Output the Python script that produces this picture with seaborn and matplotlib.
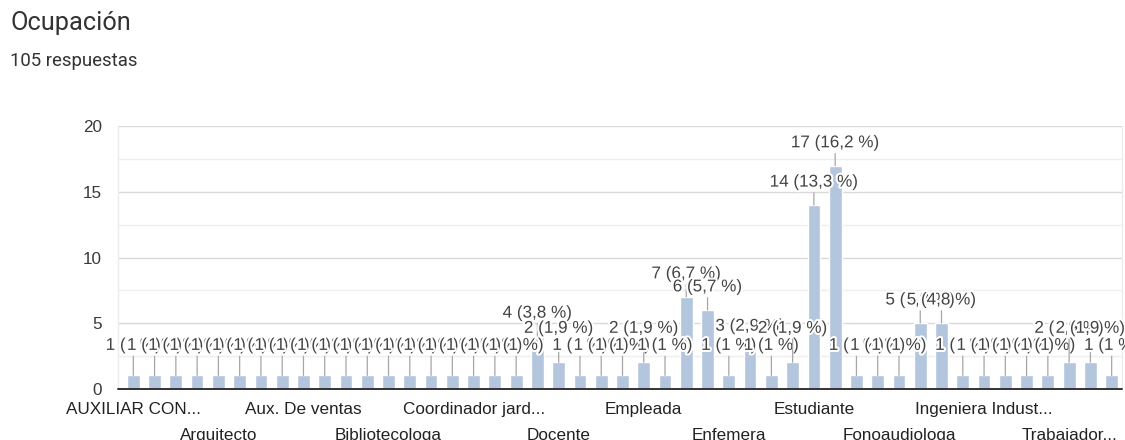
import matplotlib
matplotlib.use("Agg")
import matplotlib.pyplot as plt
import matplotlib.patheffects as pe
import seaborn as sns

# Responses per occupation (105 answers in total), in the form's listing order
categories = [
    "AUXILIAR CONTABLE", "Abogada", "Administradora", "Ama de casa",
    "Arquitecto", "Asesora comercial", "Asistente administrativa", "Aux. Administrativa",
    "Aux. De ventas", "Auxiliar de enfermería", "Bacterióloga", "Bibliotecario",
    "Bibliotecologa", "Cajera", "Comerciante", "Contadora",
    "Coordinador jardín infantil", "Costurera", "Diseñadora", "Docencia",
    "Docente", "Docente universitaria", "Economista", "Educadora",
    "Empleada", "Empleada pública", "Empleado", "Empresaria",
    "Enfemera", "Enfermera", "Enfermero", "Esteticista",
    "Estudiante", "Estudiante universitaria", "Farmaceuta", "Fisioterapeuta",
    "Fonoaudiologa", "Hogar", "Independiente", "Ingeniera",
    "Ingeniera Industrial", "Ingeniero civil", "Médica", "Psicóloga",
    "Trabajador independiente", "Trabajadora social", "Vendedora",
]
values = [
    1, 1, 1, 1, 1, 1, 1, 1,
    1, 1, 1, 1, 1, 1, 1, 1,
    1, 1, 1, 4, 2, 1, 1, 1,
    2, 1, 7, 6, 1, 3, 1, 2,
    14, 17, 1, 1, 1, 5, 5, 1,
    1, 1, 1, 1, 2, 2, 1,
]
# Axis labels shown under every fourth category
shown_labels = [
    "AUXILIAR CON...", "Arquitecto", "Aux. De ventas", "Bibliotecologa",
    "Coordinador jard...", "Docente", "Empleada", "Enfemera",
    "Estudiante", "Fonoaudiologa", "Ingeniera Indust...", "Trabajador...",
]
y_ticks = [0, 5, 10, 15, 20]
title = "Ocupación"
subtitle = "105 respuestas"

total = sum(values)

sns.set_style("white")
plt.rcParams["font.family"] = ["Liberation Sans", "DejaVu Sans"]

W, H, DPI = 1125, 440, 100
PX = 72 / DPI  # points per pixel

fig = plt.figure(figsize=(W / DPI, H / DPI), dpi=DPI)
ax = fig.add_axes([118 / W, 1 - 388.5 / H, (1122.3 - 118) / W, (388.5 - 126.5) / H])

bar_color = "#b4c5de"
sns.barplot(x=categories, y=values, color=bar_color, saturation=1,
            width=0.6, errorbar=None, ax=ax, zorder=2)

ax.set_xlim(-0.72, len(categories) - 0.5)
ax.set_ylim(0, 20)

# Gridlines: major every 5, faint minor lines halfway between
ax.set_yticks(y_ticks)
ax.set_yticks([2.5, 7.5, 12.5, 17.5], minor=True)
ax.grid(which="major", axis="y", color="#d9d9d9", lw=1, zorder=0)
ax.grid(which="minor", axis="y", color="#efefef", lw=1, zorder=0)
ax.grid(which="major", axis="x", visible=False)
ax.axhline(0, color="#333333", lw=1.4, zorder=3, clip_on=False)

for side in ("top", "bottom"):
    ax.spines[side].set_visible(False)
for side in ("left", "right"):
    ax.spines[side].set_color("#ececec")
    ax.spines[side].set_linewidth(1)

ax.tick_params(axis="y", which="both", length=0, pad=11.5,
               labelsize=12.3, labelcolor="#3a3a3a")
ax.set_ylabel("")
ax.set_xlabel("")

# Category labels on two staggered rows
label_idx = list(range(0, len(categories), 4))
ax.set_xticks(label_idx)
ax.set_xticklabels(shown_labels, fontsize=12.3, color="#222222")
ax.tick_params(axis="x", length=0)
for k, tick in enumerate(ax.xaxis.get_major_ticks()):
    tick.set_pad(9.5 if k % 2 == 0 else 28.5)

# Value annotations "n (p %)" with a stem from the bar top
halo = [pe.withStroke(linewidth=3, foreground="white")]
for i, v in enumerate(values):
    pct = f"{round(v / total * 100, 1):g}".replace(".", ",")
    lift = {1: 30, 2: 34}.get(v, 23)
    ax.annotate(
        f"{v} ({pct} %)", xy=(i, v), xytext=(0, lift * PX),
        textcoords="offset points", ha="center", va="center",
        fontsize=12.3, color="#444444", path_effects=halo, zorder=4,
        arrowprops=dict(arrowstyle="-", color="#a6a6a6", lw=0.9,
                        shrinkA=0, shrinkB=0, relpos=(0.5, 0)),
    )

fig.text(10 / W, 1 - 11 / H, title, ha="left", va="top",
         fontsize=18.3, family="Roboto", color="#333333")
fig.text(10 / W, 1 - 52 / H, subtitle, ha="left", va="top",
         fontsize=13.4, family="Roboto", color="#333333")

fig.savefig("out.png", dpi=DPI)
